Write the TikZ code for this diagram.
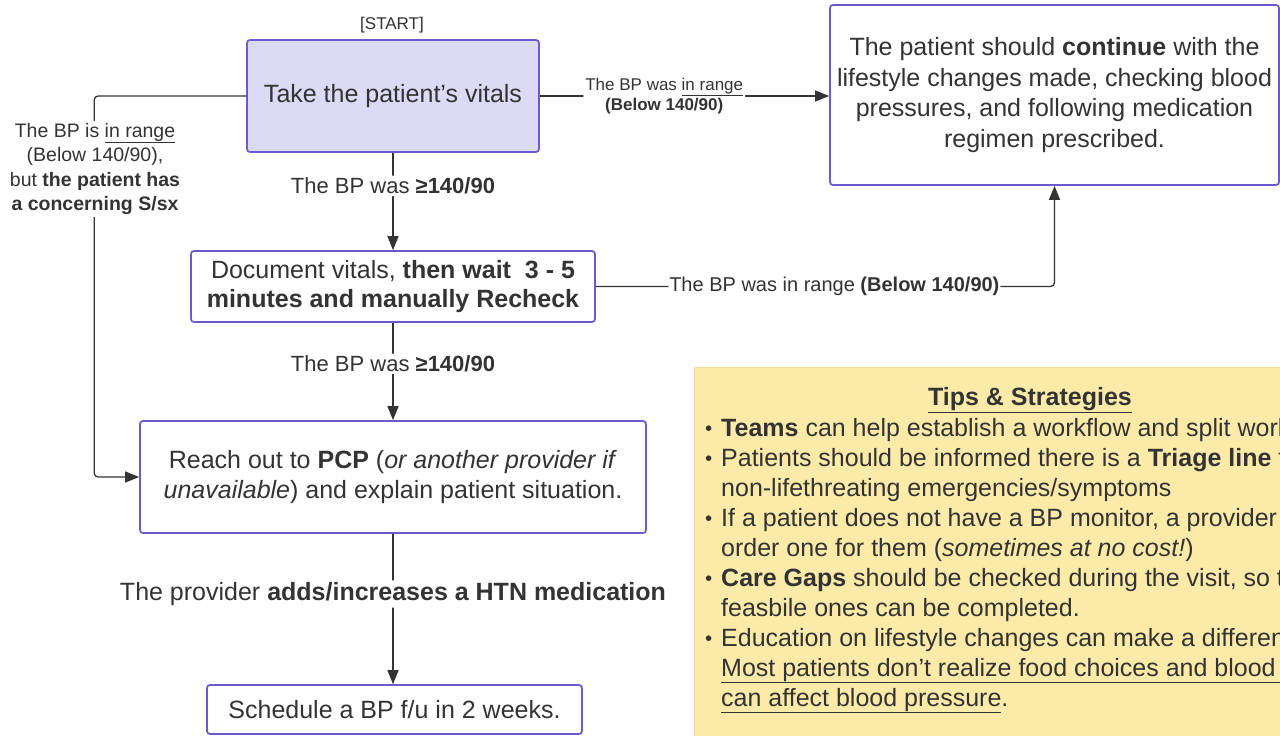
\documentclass[tikz,border=0pt]{standalone}
\usepackage{fontspec}
\setmainfont{Liberation Sans}
\usetikzlibrary{arrows.meta,calc}

\definecolor{boxline}{HTML}{6A5ACD}
\definecolor{startfill}{HTML}{DCDAF4}
\definecolor{tipfill}{HTML}{FCEBA8}
\definecolor{ink}{HTML}{333333}
\newcommand\sz[2]{\fontsize{#1}{#2}\selectfont}
\newcommand\tipdot{\makebox[17pt][l]{\hspace{1pt}\raisebox{0.8pt}{\scalebox{0.82}{\textbullet}}}}
\newcommand\tipgap{\makebox[17pt][l]{}}

\tikzset{
  flowbox/.style={draw=boxline, line width=1.7pt, rounded corners=3pt, align=center, text=ink, inner sep=0pt, font=\sz{25}{30.5}},
  link/.style={draw=ink, line width=1.3pt, rounded corners=4pt},
  arr/.style={link, -{Triangle[length=14pt,width=11pt]}},
  lbl/.style={fill=white, text=ink, align=center, inner sep=2pt},
}

\begin{document}
\begin{tikzpicture}[x=1pt,y=-1pt]
  \useasboundingbox (0,0) rectangle (1280,736);
  \clip (0,0) rectangle (1280,736);
  \fill[white] (0,0) rectangle (1280,736);

  % Tips box (bottom right)
  \draw[fill=tipfill, draw=tipfill!85!brown, line width=0.8pt] (694,367) rectangle (1320,760);
  \node[text=ink, font=\sz{25}{30}\bfseries] (tipstitle) at (1030,400) {\underline{Tips \& Strategies}};
  \foreach \tip [count=\i] in {
      {\tipdot\textbf{Teams} can help establish a workflow and split work},
      {\tipdot Patients should be informed there is a \textbf{Triage line} for},
      {\tipgap non-lifethreating emergencies/symptoms},
      {\tipdot If a patient does not have a BP monitor, a provider can},
      {\tipgap order one for them (\textit{sometimes at no cost!})},
      {\tipdot\textbf{Care Gaps} should be checked during the visit, so that},
      {\tipgap feasbile ones can be completed.},
      {\tipdot Education on lifestyle changes can make a difference.},
      {\tipgap\underline{Most patients don't realize food choices and blood sugar}},
      {\tipgap\underline{can affect blood pressure}.}}
    \node[anchor=base west, text=ink, font=\sz{25}{30}, inner sep=0pt] (tip\i) at (704,{436+30*(\i-1)}) {\tip};

  % Flow boxes
  \node[font=\sz{17}{20}, text=ink] (start) at (392,25) {[START]};
  \node[flowbox, fill=startfill, minimum width=292pt, minimum height=112pt] (vitals) at (393,96) {Take the patient's vitals};
  \node[flowbox, minimum width=449pt, minimum height=180pt] (cont) at (1054.5,95)
    {The patient should \textbf{continue} with the\\lifestyle changes made, checking blood\\pressures, and following medication\\regimen prescribed.};
  \node[flowbox, minimum width=404pt, minimum height=71pt, font=\sz{25}{29}] (doc) at (393,286.5)
    {Document vitals, \textbf{then wait\ \ 3 - 5}\\\textbf{minutes and manually Recheck}};
  \node[flowbox, minimum width=506pt, minimum height=112pt] (reach) at (393,477)
    {Reach out to \textbf{PCP} (\textit{or another provider if}\\\textit{unavailable}) and explain patient situation.};
  \node[flowbox, minimum width=375pt, minimum height=49pt] (sched) at (394.5,709.5) {Schedule a BP f/u in 2 weeks.};

  % Connectors
  \draw[arr] (vitals.east) -- node[lbl, pos=0.43, font=\sz{17}{20}] (lblrange) {The BP was \underline{in range}\\\textbf{(Below 140/90)}} (vitals.east -| cont.west);
  \draw[arr] (vitals.west) -| ($(reach.west)+(-45,0)$) -- (reach.west);
  \node[lbl, font=\sz{19.5}{24.5}] (lblconcern) at (95,169)
    {The BP is \underline{in range}\\(Below 140/90),\\but \textbf{the patient has}\\\textbf{a concerning S/sx}};
  \draw[arr] (vitals.south) -- node[lbl, pos=0.34, font=\sz{22}{24}] (lblhigha) {The BP was \textbf{≥140/90}} (doc.north);
  \draw[arr] (doc.east) -| node[lbl, pos=0.26, font=\sz{20}{22}, inner sep=1pt] (lblrecheck) {The BP was in range \textbf{(Below 140/90)}} (cont.south);
  \draw[arr] (doc.south) -- node[lbl, pos=0.42, font=\sz{22}{24}] (lblhighb) {The BP was \textbf{≥140/90}} (reach.north);
  \draw[arr] (reach.south) -- node[lbl, pos=0.4, font=\sz{25}{28}] (lblmed) {The provider \textbf{adds/increases a HTN medication}} (reach.south |- sched.north);
\end{tikzpicture}
\end{document}
